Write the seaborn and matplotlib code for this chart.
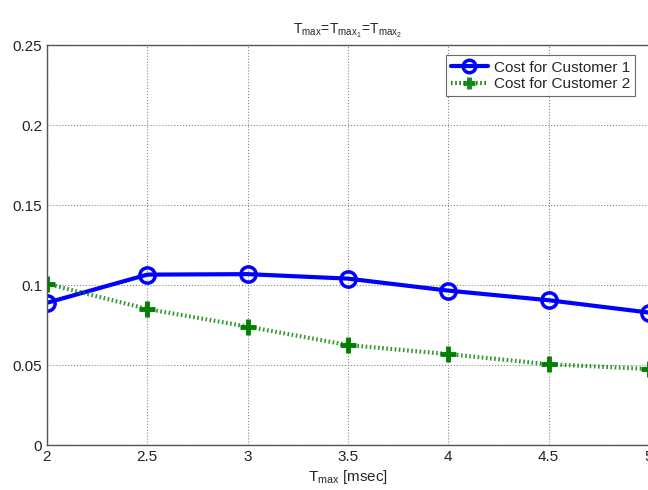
import pandas as pd
import seaborn as sns
from matplotlib import pyplot as plt

# values
t_max = [2.0, 2.5, 3.0, 3.5, 4.0, 4.5, 5.0]
cost_customer1 = [0.0889, 0.1065, 0.1068, 0.1040, 0.0965, 0.0905, 0.0828]
cost_customer2 = [0.1008, 0.0850, 0.0740, 0.0625, 0.0568, 0.0505, 0.0475]
series_names = ['Cost for Customer 1', 'Cost for Customer 2']
x_ticks = [2, 2.5, 3, 3.5, 4, 4.5, 5]
x_tick_labels = ['2', '2.5', '3', '3.5', '4', '4.5', '5']
y_ticks = [0, 0.05, 0.1, 0.15, 0.2, 0.25]
y_tick_labels = ['0', '0.05', '0.1', '0.15', '0.2', '0.25']

sns.set_style('white')
plt.rcParams['font.family'] = ['Liberation Sans', 'DejaVu Sans']
plt.rcParams['mathtext.fontset'] = 'custom'
plt.rcParams['mathtext.rm'] = 'Liberation Sans'
plt.rcParams['mathtext.it'] = 'Liberation Sans'

df = pd.DataFrame({
    't': t_max * 2,
    'cost': cost_customer1 + cost_customer2,
    'series': [series_names[0]] * len(t_max) + [series_names[1]] * len(t_max),
})

fig = plt.figure(figsize=(6.48, 4.90), dpi=100)
ax = fig.add_axes([0.0725, 0.0918, 0.929, 0.8163])

d1 = df[df['series'] == series_names[0]]
d2 = df[df['series'] == series_names[1]]
sns.lineplot(data=d1, x='t', y='cost', ax=ax, color='#0000ff', lw=3,
             marker='o', markersize=11, markerfacecolor='none',
             markeredgecolor='#0000ff', markeredgewidth=2.5, legend=False)
sns.lineplot(data=d2, x='t', y='cost', ax=ax, color='#008000', lw=3,
             linestyle=(0, (0.4, 0.6)), alpha=0.8, legend=False)
# thick plus markers drawn on top, solid
ax.plot(d2['t'], d2['cost'], ls='none', marker='+', markersize=11,
        markeredgewidth=3.5, color='#008000')

ax.set_xlim(2, 5)
ax.set_ylim(0, 0.25)
ax.set_xticks(x_ticks)
ax.set_xticklabels(x_tick_labels)
ax.set_yticks(y_ticks)
ax.set_yticklabels(y_tick_labels)
ax.tick_params(direction='in', length=4, labelsize=11, colors='#222222')
ax.grid(True, ls=':', color='#888888', lw=0.8)
for sp in ax.spines.values():
    sp.set_color('#555555')
    sp.set_linewidth(1)

ax.set_xlabel(r'$\mathregular{T_{max}}$ [msec]', fontsize=11, labelpad=3)
ax.set_ylabel('')
ax.set_title(r'$\mathregular{T_{max}\!=\!T_{max_1}\!=\!T_{max_2}}$',
             fontsize=10, pad=8)

# legend handles combining line style and marker
h1 = plt.Line2D([], [], color='#0000ff', lw=3, marker='o', markersize=9,
                markerfacecolor='none', markeredgewidth=2.5)
h2 = plt.Line2D([], [], color='#008000', lw=3, ls=(0, (0.4, 0.6)), alpha=0.9,
                marker='+', markersize=9, markeredgewidth=3.5)
leg = ax.legend([h1, h2], series_names, loc='upper right',
                bbox_to_anchor=(0.99, 0.993),
                fontsize=11, frameon=True, fancybox=False,
                edgecolor='#444444', handlelength=2.4, borderpad=0.35,
                labelspacing=0.15, handletextpad=0.4)
leg.get_frame().set_linewidth(0.8)

plt.savefig('out.png', dpi=100)
